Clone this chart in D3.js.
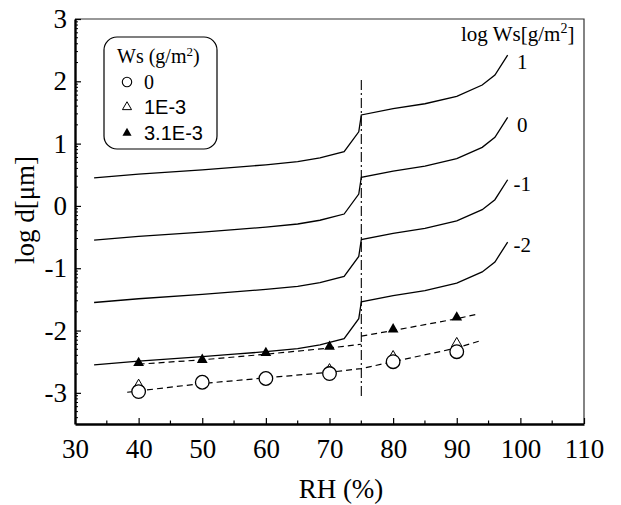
<!DOCTYPE html>
<html>
<head>
<meta charset="utf-8">
<script src="https://cdn.jsdelivr.net/npm/d3@7"></script>
<style>
  body { margin: 0; background: #fff; }
  svg text { font-family: "Liberation Serif", "Times New Roman", serif; fill: #000; }
  svg text.sans { font-family: "Liberation Sans", Arial, sans-serif; }
</style>
</head>
<body>
<div id="chart"></div>
<script>
// model curves, log d vs RH for log Ws = 1, 0, -1, -2
const rhCurve = [33, 40, 50, 55, 60, 65, 68.5, 72.3, 74.6, 75, 80, 85, 90, 94, 96, 98];
const logdWs1 = [0.45, 0.51, 0.58, 0.62, 0.66, 0.71, 0.77, 0.87, 1.19, 1.46, 1.56, 1.64, 1.76, 1.94, 2.1, 2.42];
const logdWs0 = [-0.55, -0.49, -0.42, -0.38, -0.34, -0.29, -0.23, -0.13, 0.19, 0.46, 0.56, 0.64, 0.76, 0.94, 1.1, 1.42];
const logdWsm1 = [-1.55, -1.49, -1.42, -1.38, -1.34, -1.29, -1.23, -1.13, -0.81, -0.54, -0.44, -0.36, -0.24, -0.06, 0.1, 0.42];
const logdWsm2 = [-2.55, -2.49, -2.42, -2.38, -2.34, -2.29, -2.23, -2.13, -1.81, -1.54, -1.44, -1.36, -1.24, -1.06, -0.9, -0.58];
const curveLabels = ["1", "0", "-1", "-2"];
const curveLabelRH = [100.3, 100.3, 100.3, 100.3];
const curveLabelY = [2.31, 1.3, 0.36, -0.62];

// measurements
const rhPts = [40, 50, 60, 70, 80, 90];
const ws0 = [-2.98, -2.83, -2.77, -2.69, -2.50, -2.34];
const ws1e3 = [-2.88, -2.84, -2.76, -2.63, -2.42, -2.21];
const ws31e3 = [-2.52, -2.47, -2.36, -2.26, -1.98, -1.79];

// dashed fits
const fitHiRH1 = [40, 50, 60, 70, 75];
const fitHi1 = [-2.54, -2.47, -2.38, -2.28, -2.22];
const fitHiRH2 = [75, 80, 90, 93.5];
const fitHi2 = [-2.09, -2.0, -1.81, -1.73];
const fitLoRH = [38.2, 50, 60, 70, 75, 80, 90, 93.5];
const fitLo = [-2.99, -2.85, -2.76, -2.67, -2.61, -2.5, -2.28, -2.17];

const deliqRH = 75;
const deliqRange = [-3.05, 2.07];

const xTicks = [30, 40, 50, 60, 70, 80, 90, 100, 110];
const yTicks = [-3, -2, -1, 0, 1, 2, 3];
const legendNames = ["0", "1E-3", "3.1E-3"];

const W = 621, H = 505;
const margin = { top: 19, right: 37, bottom: 81, left: 75 };
const serif = "Liberation Serif, Times New Roman, serif";

const svg = d3.select("#chart").append("svg")
  .attr("width", W).attr("height", H);

const x = d3.scaleLinear().domain([30, 110]).range([margin.left, W - margin.right]);
const y = d3.scaleLinear().domain([-3.5, 3]).range([H - margin.bottom, margin.top]);

// frame top/right
svg.append("path")
  .attr("d", `M${x(30)},${y(3)}H${x(110)}V${y(-3.5)}`)
  .attr("fill", "none").attr("stroke", "#333").attr("stroke-width", 1.2);

// minor ticks
const xMinor = d3.range(35, 110, 10);
const yMinor = [];
d3.range(-4, 3).forEach(n => {
  d3.range(2, 10).forEach(k => {
    const v = n + Math.log10(k);
    if (v > -3.5 && v < 3) yMinor.push(v);
  });
});

const xAxis = d3.axisBottom(x).tickValues(xTicks).tickFormat(d => String(d))
  .tickSizeInner(-6).tickSizeOuter(0).tickPadding(15);
const gx = svg.append("g").attr("transform", `translate(0,${y(-3.5)})`).call(xAxis)
  .attr("font-family", serif).attr("font-size", 27);
gx.select(".domain").attr("stroke-width", 2.4);
gx.selectAll(".tick line").attr("stroke-width", 1.2);
gx.selectAll(".minor").data(xMinor).enter().append("line")
  .attr("x1", d => x(d)).attr("x2", d => x(d)).attr("y1", 0).attr("y2", -3.5)
  .attr("stroke", "#000").attr("stroke-width", 1.2);

const yAxis = d3.axisLeft(y).tickValues(yTicks).tickFormat(d => String(d))
  .tickSizeInner(-6).tickSizeOuter(0).tickPadding(8);
const gy = svg.append("g").attr("transform", `translate(${x(30)},0)`).call(yAxis)
  .attr("font-family", serif).attr("font-size", 27);
gy.select(".domain").attr("stroke-width", 2.4);
gy.selectAll(".tick line").attr("stroke-width", 1.2);
gy.selectAll(".minor").data(yMinor).enter().append("line")
  .attr("x1", 0).attr("x2", 3).attr("y1", d => y(d)).attr("y2", d => y(d))
  .attr("stroke", "#000").attr("stroke-width", 1);

// axis titles
svg.append("text").attr("x", 341).attr("y", 498).attr("text-anchor", "middle")
  .attr("font-size", 27).text("RH (%)");
svg.append("text").attr("transform", "translate(34,210) rotate(-90)")
  .attr("text-anchor", "middle").attr("font-size", 27).text("log d[μm]");

// model curves
const line = d3.line().x(d => x(d[0])).y(d => y(d[1]));
[logdWs1, logdWs0, logdWsm1, logdWsm2].forEach(vals => {
  svg.append("path").datum(rhCurve.map((r, i) => [r, vals[i]]))
    .attr("d", line).attr("fill", "none").attr("stroke", "#000").attr("stroke-width", 1.3);
});

svg.selectAll(".clabel").data(curveLabels).enter().append("text")
  .attr("x", (d, i) => x(curveLabelRH[i])).attr("y", (d, i) => y(curveLabelY[i]))
  .attr("dy", "0.35em").attr("text-anchor", "middle").attr("font-size", 21).text(d => d);

const hdr = svg.append("text").attr("x", 461).attr("y", 41).attr("font-size", 21);
hdr.append("tspan").text("log Ws[g/m");
hdr.append("tspan").attr("font-size", 14).attr("dy", -8).text("2");
hdr.append("tspan").attr("dy", 8).text("]");

// deliquescence line
svg.append("line")
  .attr("x1", x(deliqRH)).attr("x2", x(deliqRH))
  .attr("y1", y(deliqRange[0])).attr("y2", y(deliqRange[1]))
  .attr("stroke", "#000").attr("stroke-width", 1.1)
  .attr("stroke-dasharray", "10,3,2,3");

// dashed fits
[[fitHiRH1, fitHi1], [fitHiRH2, fitHi2], [fitLoRH, fitLo]].forEach(([r, v]) => {
  svg.append("path").datum(r.map((d, i) => [d, v[i]]))
    .attr("d", line).attr("fill", "none").attr("stroke", "#000").attr("stroke-width", 1.2)
    .attr("stroke-dasharray", "6,4");
});

// markers
const tri = d3.symbol(d3.symbolTriangle, 50);
svg.selectAll(".t1").data(rhPts).enter().append("path")
  .attr("transform", (d, i) => `translate(${x(d)},${y(ws1e3[i])})`)
  .attr("d", tri).attr("fill", "#fff").attr("stroke", "#000").attr("stroke-width", 1);
svg.selectAll(".c0").data(rhPts).enter().append("circle")
  .attr("cx", d => x(d)).attr("cy", (d, i) => y(ws0[i])).attr("r", 6.8)
  .attr("fill", "#fff").attr("stroke", "#000").attr("stroke-width", 1.3);
svg.selectAll(".t2").data(rhPts).enter().append("path")
  .attr("transform", (d, i) => `translate(${x(d)},${y(ws31e3[i])})`)
  .attr("d", tri).attr("fill", "#000");

// legend
const lg = svg.append("g");
lg.append("rect").attr("x", 104).attr("y", 37).attr("width", 113).attr("height", 112)
  .attr("rx", 13).attr("fill", "#fff").attr("stroke", "#000").attr("stroke-width", 1.2);
const lt = lg.append("text").attr("x", 117).attr("y", 63).attr("font-size", 20);
lt.append("tspan").text("Ws (g/m");
lt.append("tspan").attr("font-size", 13).attr("dy", -7).text("2");
lt.append("tspan").attr("dy", 7).text(")");
const rowY = [82, 107, 133];
lg.append("circle").attr("cx", 127).attr("cy", rowY[0]).attr("r", 4.7)
  .attr("fill", "#fff").attr("stroke", "#000").attr("stroke-width", 1.1);
lg.append("path").attr("transform", `translate(127,${rowY[1]})`)
  .attr("d", d3.symbol(d3.symbolTriangle, 36)).attr("fill", "#fff").attr("stroke", "#000").attr("stroke-width", 1);
lg.append("path").attr("transform", `translate(127,${rowY[2]})`)
  .attr("d", d3.symbol(d3.symbolTriangle, 36)).attr("fill", "#000");
lg.selectAll(".ln").data(legendNames).enter().append("text")
  .attr("class", (d, i) => i > 0 ? "sans" : null)
  .attr("x", 144).attr("y", (d, i) => rowY[i]).attr("dy", "0.36em")
  .attr("font-size", 20).text(d => d);
</script>
</body>
</html>
